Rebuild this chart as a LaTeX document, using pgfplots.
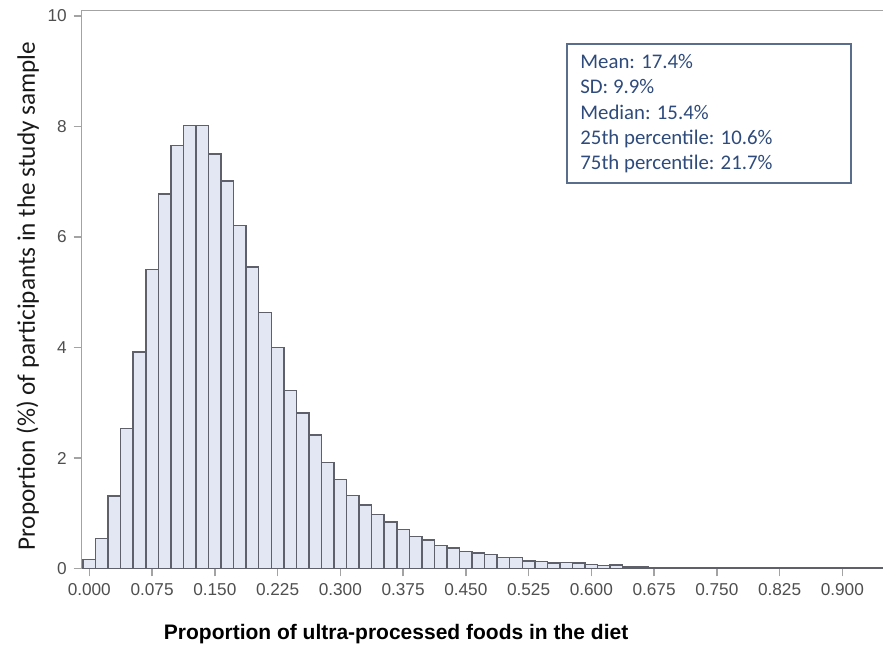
\documentclass[border=0pt]{standalone}
\usepackage{fontspec}
\setmainfont{Liberation Sans}
\newfontfamily\calibri{Carlito}
\usepackage{pgfplots}
\pgfplotsset{compat=1.18}
\definecolor{barfill}{HTML}{E2E7F3}
\definecolor{baredge}{HTML}{5E616A}
\definecolor{axisgray}{HTML}{A3A3A3}
\definecolor{ticktext}{HTML}{4F4F4F}
\definecolor{boxtext}{HTML}{2E4B7B}
\definecolor{boxedge}{HTML}{5A6D8A}
\begin{document}
\begin{tikzpicture}
\useasboundingbox (0,0) rectangle (441.5pt,323pt);
\begin{axis}[
  scale only axis,
  width=402.15pt, height=279pt,
  at={(40.85pt,38.75pt)}, anchor=south west,
  xmin=-0.00908, xmax=0.9522,
  ymin=0, ymax=10.1,
  axis line style={axisgray, line width=0.75pt},
  tick style={axisgray, line width=0.75pt},
  tick align=outside,
  major tick length=4pt,
  xtick={0,0.075,...,0.9},
  ytick={0,2,4,6,8,10},
  xtick pos=bottom, ytick pos=left,
  /pgf/number format/assume math mode=true,
  xticklabel style={font=\fontsize{8.6}{9}\selectfont, text=ticktext, /pgf/number format/.cd, fixed, precision=3, zerofill},
  yticklabel style={font=\fontsize{8.6}{9}\selectfont, text=ticktext},
  scaled x ticks=false,
  xlabel={\bfseries Proportion of ultra-processed foods in the diet},
  ylabel={\calibri Proportion (\%) of participants in the study sample},
  every axis x label/.style={at={(rel axis cs:0.3909,0)}, anchor=base, yshift=-35.75pt, font=\fontsize{10.5}{12}\selectfont},
  every axis y label/.style={at={(rel axis cs:0,0.488)}, xshift=-27pt, rotate=90, anchor=center, font=\fontsize{12.6}{14}\selectfont, text=black!90},
  ybar, bar width=0.015,
]
\addplot[fill=barfill, draw=baredge, line width=0.75pt] coordinates {
(0.000,0.16) (0.015,0.54) (0.030,1.31) (0.045,2.53) (0.060,3.92)
(0.075,5.41) (0.090,6.78) (0.105,7.66) (0.120,8.02) (0.135,8.02)
(0.150,7.50) (0.165,7.01) (0.180,6.21) (0.195,5.46) (0.210,4.63)
(0.225,4.00) (0.240,3.22) (0.255,2.81) (0.270,2.42) (0.285,1.92)
(0.300,1.61) (0.315,1.32) (0.330,1.15) (0.345,0.98) (0.360,0.84)
(0.375,0.71) (0.390,0.58) (0.405,0.52) (0.420,0.42) (0.435,0.37)
(0.450,0.31) (0.465,0.28) (0.480,0.25) (0.495,0.20) (0.510,0.20)
(0.525,0.14) (0.540,0.13) (0.555,0.10) (0.570,0.11) (0.585,0.10)
(0.600,0.07) (0.615,0.05) (0.630,0.06) (0.645,0.03) (0.660,0.03)
(0.675,0.02) (0.690,0.02) (0.705,0.02) (0.720,0.015) (0.735,0.01)
(0.750,0.01) (0.765,0.01) (0.780,0.01) (0.795,0.005) (0.810,0.005)
(0.825,0.005) (0.840,0.005) (0.855,0.005) (0.870,0.005) (0.885,0.005)
(0.900,0.005) (0.915,0.005) (0.930,0.005) (0.945,0.005)
};
\end{axis}
\draw[boxedge, line width=0.8pt, fill=white] (283.5pt,231.5pt) rectangle (425.5pt,301pt);
\begin{scope}[every node/.style={anchor=base west, inner sep=0pt, text=boxtext, font=\calibri\fontsize{10.4}{12}\selectfont}]
\node at (290pt,288.65pt) {Mean: 17.4\%};
\node at (290pt,276.0pt) {SD: 9.9\%};
\node at (290pt,263.35pt) {Median: 15.4\%};
\node at (290pt,250.7pt) {25th percentile: 10.6\%};
\node at (290pt,238.05pt) {75th percentile: 21.7\%};
\end{scope}
\end{tikzpicture}
\end{document}
